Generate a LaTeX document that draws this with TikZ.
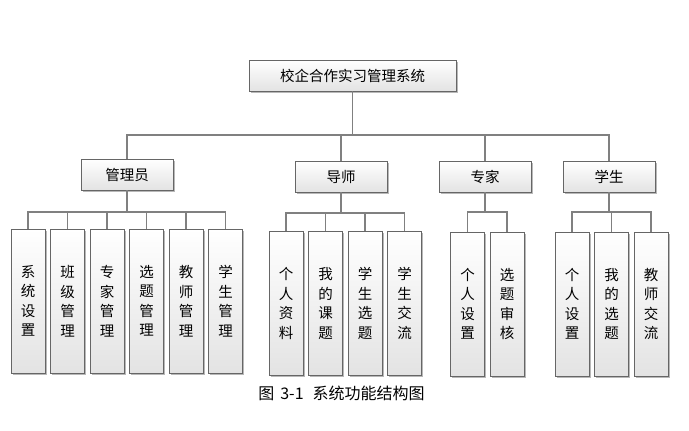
\documentclass[tikz,border=0pt]{standalone}
\usepackage{fontspec}
\setmainfont{Noto Sans CJK SC}
\usetikzlibrary{shadows}

\begin{document}
\begin{tikzpicture}[x=1pt, y=-1pt]
		\tikzstyle{every node}=[font=\fontsize{14.5}{19.5}\selectfont, inner sep=0pt]
		\tikzstyle{box}=[draw=black!60, top color=white, bottom color=black!11, align=center,
			drop shadow={shadow xshift=1.5pt, shadow yshift=-1.5pt, fill=black!35, opacity=.8}]
		\tikzstyle{head}=[box, minimum width=92pt, minimum height=31pt]
		\tikzstyle{leaf}=[box, minimum width=34pt, minimum height=144pt]
		\tikzstyle{link}=[draw=black!50, line width=1.2pt]
    \def\dx{39.5}

		\useasboundingbox (0,0) rectangle (689,431);

		% top
		\node[box, minimum width=207pt, minimum height=31pt] (root) at (352.5,75.5) {校企合作实习管理系统};

		% roles
		\node[head] (admin) at (127,174.5) {管理员};
		\node[head] (tutor) at (341,176.5) {导师};
		\node[head] (expert) at (485,176.5) {专家};
		\node[head] (student) at (609,176.5) {学生};

		% admin
		\node[leaf] (a1) at (28,301) {系\\统\\设\\置};
		\node[leaf] (a2) at (28+\dx,301) {班\\级\\管\\理};
		\node[leaf] (a3) at (28+2*\dx,301) {专\\家\\管\\理};
		\node[leaf] (a4) at (28+3*\dx,301) {选\\题\\管\\理};
		\node[leaf] (a5) at (28+4*\dx,301) {教\\师\\管\\理};
		\node[leaf] (a6) at (28+5*\dx,301) {学\\生\\管\\理};

		% tutor
		\node[leaf] (t1) at (286,303.5) {个\\人\\资\\料};
		\node[leaf] (t2) at (286+\dx,303.5) {我\\的\\课\\题};
		\node[leaf] (t3) at (286+2*\dx,303.5) {学\\生\\选\\题};
		\node[leaf] (t4) at (286+3*\dx,303.5) {学\\生\\交\\流};

		% expert
		\node[leaf] (e1) at (467.5,304) {个\\人\\设\\置};
		\node[leaf] (e2) at (467.5+\dx,304) {选\\题\\审\\核};

		% student
		\node[leaf] (s1) at (572,304) {个\\人\\设\\置};
		\node[leaf] (s2) at (572+\dx,304) {我\\的\\选\\题};
		\node[leaf] (s3) at (572+2*\dx,304) {教\\师\\交\\流};

		\node[font=\fontsize{16}{18}\selectfont] (cap) at (341.5,393) {图\hspace{6pt}3-1\hspace{9pt}系统功能结构图};

		% buses
		\coordinate (bus0) at (0,135);
		\coordinate (busA) at (0,212);
		\coordinate (busT) at (0,213);
		\coordinate (busE) at (0,212);
		\coordinate (busS) at (0,212);

		\foreach \n in {admin,tutor,expert,student}
			\draw[link] (root.south) -- (root.south |- bus0) -| (\n.north);
		\foreach \n in {a1,a2,a3,a4,a5,a6}
			\draw[link] (admin.south) -- (admin.south |- busA) -| (\n.north);
		\foreach \n in {t1,t2,t3,t4}
			\draw[link] (tutor.south) -- (tutor.south |- busT) -| (\n.north);
		\foreach \n in {e1,e2}
			\draw[link] (expert.south) -- (expert.south |- busE) -| (\n.north);
		\foreach \n in {s1,s2,s3}
			\draw[link] (student.south) -- (student.south |- busS) -| (\n.north);
	\end{tikzpicture}
\end{document}
